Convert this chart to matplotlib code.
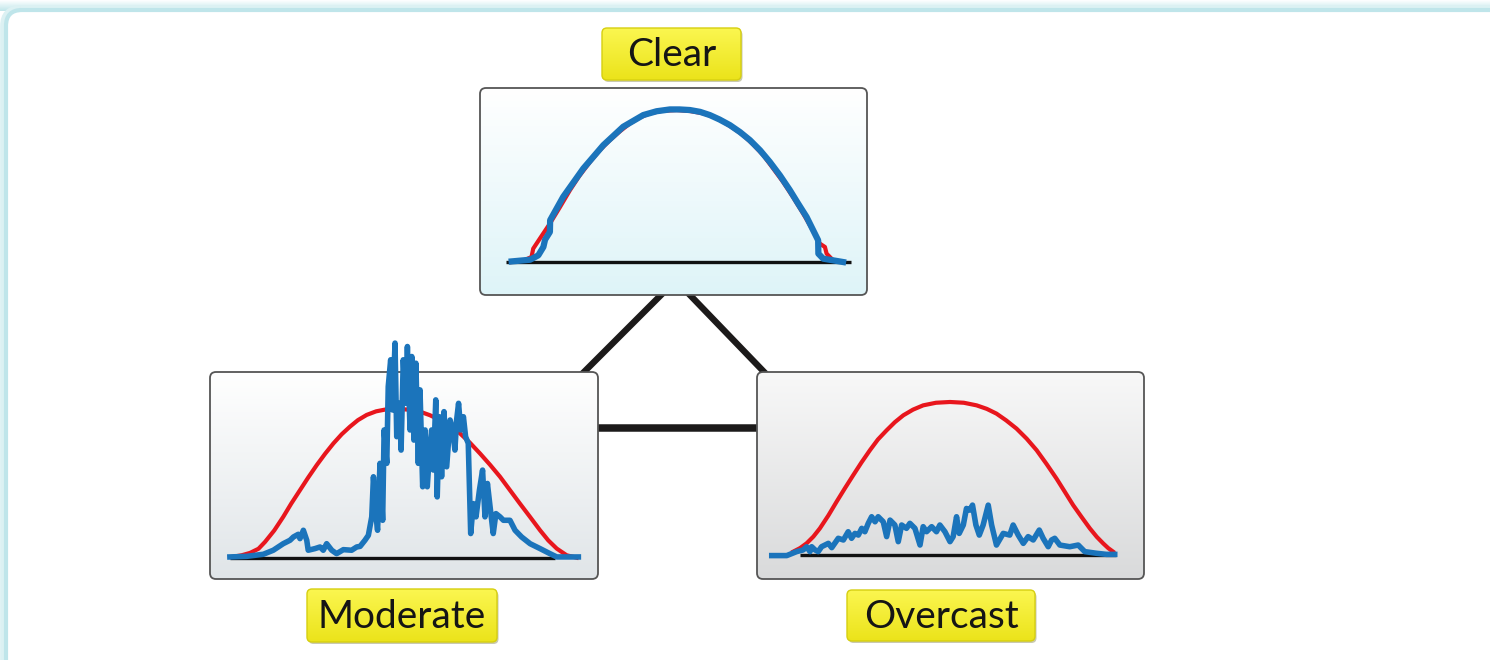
import matplotlib
matplotlib.use("Agg")
import matplotlib.pyplot as plt
import numpy as np
from matplotlib.patches import FancyBboxPatch
from matplotlib.colors import LinearSegmentedColormap

# ---------------- data (time in hours, irradiance normalised to clear-sky peak = 1000) -------------
clear_red_t = [5.31, 5.80, 6.13, 6.20, 6.50, 6.89, 7.30, 7.72, 8.10, 8.55, 8.95, 9.37, 9.80,
               10.20, 10.60, 11.02, 11.50, 12.13, 12.70, 13.23, 13.65, 14.05, 14.45, 14.88,
               15.30, 15.71, 16.10, 16.53, 16.95, 17.36, 17.70, 18.05, 18.26, 18.33, 18.60, 19.01]
clear_red_v = [0, 10, 33, 88, 160, 253, 360, 473, 565, 659, 735, 802, 862,
               912, 950, 978, 994, 1000, 993, 978, 955, 923, 883, 835,
               772, 703, 620, 527, 425, 319, 225, 121, 99, 55, 11, 0]
clear_blue_t = [5.31, 6.07, 6.41, 6.62, 6.69, 6.89, 6.90, 7.44, 8.27, 9.10, 9.92, 10.75, 11.30,
                11.85, 12.25, 12.68, 13.10, 13.50, 13.90, 14.33, 14.75, 15.16, 15.58, 15.98,
                16.40, 16.81, 17.15, 17.50, 17.98, 17.99, 18.19, 19.01]
clear_blue_v = [4, 15, 44, 99, 147, 198, 275, 429, 615, 769, 890, 967, 992,
                1004, 1004, 1000, 988, 967, 938, 901, 855, 802, 735, 659,
                570, 473, 385, 297, 143, 55, 22, 0]

moderate_red_t = [4.89, 5.30, 5.65, 6.00, 6.27, 6.65, 7.02, 7.35, 7.71, 8.05, 8.40, 8.75, 9.09,
                  9.43, 9.77, 10.10, 10.46, 10.85, 11.29, 11.84, 12.25, 12.66, 13.07, 13.48,
                  13.90, 14.31, 14.72, 15.13, 15.55, 15.96, 16.37, 16.78, 17.20, 17.61, 17.95,
                  18.30, 18.71, 19.12]
moderate_red_v = [7, 18, 34, 62, 108, 185, 276, 365, 455, 540, 623, 700, 769,
                  830, 881, 925, 960, 984, 998, 1000, 994, 982, 958, 926,
                  884, 836, 773, 702, 625, 545, 455, 365, 275, 186, 118,
                  63, 18, 2]
moderate_blue_t = [4.82, 5.51, 6.20, 6.61, 7.02, 7.30, 7.44, 7.64, 7.71, 7.85, 7.99, 8.05, 8.33,
                   8.54, 8.67, 8.81, 9.02, 9.22, 9.50, 9.84, 10.05, 10.19, 10.39, 10.53, 10.67,
                   10.74, 10.85, 10.91, 11.01, 11.12, 11.18, 11.29, 11.35, 11.45, 11.53, 11.63,
                   11.70, 11.81, 11.88, 11.97, 12.07, 12.14, 12.25, 12.32, 12.41, 12.49, 12.59,
                   12.66, 12.77, 12.87, 12.96, 13.04, 13.14, 13.21, 13.31, 13.37, 13.46, 13.55,
                   13.65, 13.76, 13.90, 14.01, 14.10, 14.17, 14.25, 14.34, 14.45, 14.54, 14.65,
                   14.75, 14.86, 14.97, 15.11, 15.24, 15.34, 15.44, 15.55, 15.68, 15.79, 15.96,
                   16.10, 16.23, 16.37, 16.58, 16.85, 17.20, 17.61, 18.02, 18.30, 18.71, 19.19]
moderate_blue_v = [7, 11, 25, 52, 96, 119, 141, 159, 130, 186, 119, 52, 63,
                   74, 52, 96, 52, 29, 56, 52, 74, 78, 119, 152, 276,
                   545, 276, 186, 635, 253, 859, 635, 1150, 1330, 993, 1442,
                   814, 1038, 724, 1330, 1038, 1419, 859, 1352, 791, 1307, 635,
                   1128, 478, 859, 478, 679, 859, 590, 1061, 410, 948, 545,
                   982, 612, 926, 859, 724, 926, 1038, 859, 948, 814, 769,
                   164, 365, 276, 455, 590, 276, 500, 343, 164, 298, 276,
                   253, 253, 253, 186, 141, 96, 63, 29, 7, 7, 7]

overcast_red_t = [5.50, 5.78, 6.05, 6.33, 6.60, 6.95, 7.29, 7.63, 7.98, 8.32, 8.67, 9.00, 9.36,
                  9.70, 10.05, 10.45, 10.87, 11.40, 11.98, 12.55, 13.08, 13.50, 13.90, 14.30,
                  14.73, 15.15, 15.56, 15.97, 16.38, 16.73, 17.07, 17.42, 17.76, 18.05, 18.31,
                  18.52, 18.72]
overcast_red_v = [22, 45, 76, 120, 174, 258, 348, 435, 522, 605, 685, 755, 815,
                  868, 913, 950, 978, 995, 1000, 995, 978, 955, 924, 880,
                  826, 760, 685, 595, 500, 412, 326, 248, 174, 118, 76,
                  45, 22]
overcast_blue_t = [4.61, 5.23, 5.64, 5.91, 6.05, 6.19, 6.26, 6.40, 6.53, 6.67, 6.95, 7.09, 7.36,
                   7.57, 7.77, 7.91, 8.05, 8.19, 8.33, 8.46, 8.60, 8.74, 8.88, 9.01, 9.22, 9.36,
                   9.50, 9.70, 9.84, 9.98, 10.18, 10.32, 10.53, 10.74, 10.87, 11.01, 11.22, 11.42,
                   11.56, 11.77, 11.98, 12.11, 12.25, 12.36, 12.53, 12.66, 12.80, 12.91, 13.05,
                   13.19, 13.35, 13.56, 13.70, 13.90, 14.18, 14.45, 14.59, 14.80, 15.01, 15.21,
                   15.42, 15.67, 15.83, 16.04, 16.18, 16.31, 16.52, 16.93, 17.28, 17.55, 18.04,
                   18.45, 18.79]
overcast_blue_v = [-4, -4, 22, 33, 54, 22, 54, 33, 22, 54, 76, 48, 109,
                   98, 152, 109, 141, 130, 174, 152, 207, 250, 217, 250, 217, 120,
                   228, 196, 87, 196, 174, 207, 174, 65, 185, 152, 185, 152,
                   196, 152, 87, 120, 250, 141, 196, 304, 293, 326, 196,
                   130, 196, 326, 196, 65, 141, 130, 196, 130, 76, 120,
                   98, 163, 109, 54, 98, 109, 65, 54, 65, 22, 11,
                   4, 4]

panel_titles = ["Clear", "Moderate", "Overcast"]

# ---------------- styling ----------------
RED = "#e8161d"
BLUE = "#1b74bb"
W, H = 1490, 660

fig = plt.figure(figsize=(W / 100, H / 100), dpi=100)
bg = fig.add_axes([0, 0, 1, 1])
bg.axis("off")


def gradient_box(x0, y0, w, h, top, bottom, radius, ec, lw, z=2):
    patch = FancyBboxPatch((x0, y0), w, h, boxstyle=f"round,pad=0,rounding_size={radius}",
                           fc="none", ec=ec, lw=lw, zorder=z + 0.5)
    bg.add_patch(patch)
    cmap = LinearSegmentedColormap.from_list("g", [top, bottom])
    grad = np.linspace(0, 1, 256)[:, None]
    im = bg.imshow(grad, cmap=cmap, extent=(x0, x0 + w, y0 + h, y0), aspect="auto",
                   origin="upper", zorder=z, interpolation="bilinear")
    im.set_clip_path(patch)
    return patch


# outer frame with soft cyan top glow
glow = np.linspace(0, 1, 64)[:, None]
gcmap = LinearSegmentedColormap.from_list("glow", ["#ffffff", "#bfe6ea"])
bg.imshow(glow, cmap=gcmap, extent=(0, W, 11, 0), aspect="auto", zorder=0)
frame_glow = FancyBboxPatch((5, 10), 1700, 900, boxstyle="round,pad=0,rounding_size=16",
                            fc="none", ec="#dcf1f3", lw=7, zorder=0.4)
bg.add_patch(frame_glow)
frame = FancyBboxPatch((6, 10), 1700, 900, boxstyle="round,pad=0,rounding_size=16",
                       fc="white", ec="#bfe5ea", lw=3, zorder=0.5)
bg.add_patch(frame)

# connectors (triangle)
conn_kw = dict(color="#1c1a1a", lw=4.6, solid_capstyle="butt", zorder=1)
bg.plot([663, 581], [293, 375], **conn_kw)
bg.plot([688, 767], [293, 375], **conn_kw)
bg.plot([595, 760], [427.5, 427.5], color="#1c1a1a", lw=5.4, solid_capstyle="butt", zorder=1)

# panel boxes
boxes = {
    "Clear": (480, 88, 387, 207, "#ffffff", "#def4f8"),
    "Moderate": (210, 372, 388, 207, "#ffffff", "#e0e5e8"),
    "Overcast": (757, 372, 387, 207, "#f8f8f8", "#d9dadb"),
}
for name, (x0, y0, w, h, c1, c2) in boxes.items():
    gradient_box(x0, y0, w, h, c1, c2, 6, "#555555", 1.3)

# label badges
badges = {
    "Clear": (602, 28, 139, 52),
    "Moderate": (307, 589, 190, 53),
    "Overcast": (847, 590, 188, 51),
}
for name in panel_titles:
    x0, y0, w, h = badges[name]
    shadow = FancyBboxPatch((x0 + 1.5, y0 + 2), w, h, boxstyle="round,pad=0,rounding_size=5",
                            fc="#c9c9b0", ec="none", zorder=3)
    bg.add_patch(shadow)
    gradient_box(x0, y0, w, h, "#fbf650", "#ebe31a", 5, "#d6cf10", 1.0, z=4)
    bg.text(x0 + w / 2, y0 + h / 2 + 1, name, ha="center", va="center", fontsize=28,
            family=["Lato", "DejaVu Sans"], color="#151515", zorder=6)

bg.set_xlim(0, W)
bg.set_ylim(H, 0)

# data panels
panels = [
    ("Clear", (-217, 1145), (5.07, 19.33), clear_red_t, clear_red_v, clear_blue_t, clear_blue_v, 4.5),
    ("Moderate", (-141, 1248), (4.82, 18.23), moderate_red_t, moderate_red_v, moderate_blue_t,
     moderate_blue_v, 4.0),
    ("Overcast", (-157, 1196), (5.78, 18.86), overcast_red_t, overcast_red_v, overcast_blue_t,
     overcast_blue_v, 4.0),
]
for name, ylim, base, rt, rv, bt, bv, blw in panels:
    x0, y0, w, h = boxes[name][:4]
    ax = fig.add_axes([x0 / W, 1 - (y0 + h) / H, w / W, h / H])
    ax.set_xlim(4, 20)
    ax.set_ylim(*ylim)
    ax.axis("off")
    ax.patch.set_alpha(0)
    ax.plot(list(base), [0, 0], color="#111111", lw=2.4, solid_capstyle="butt", zorder=1)
    ax.plot(rt, rv, color=RED, lw=3.0, zorder=2, clip_on=False, solid_joinstyle="round")
    ax.plot(bt, bv, color=BLUE, lw=blw, zorder=3, clip_on=False, solid_joinstyle="round")

fig.savefig("out.png", dpi=100)
